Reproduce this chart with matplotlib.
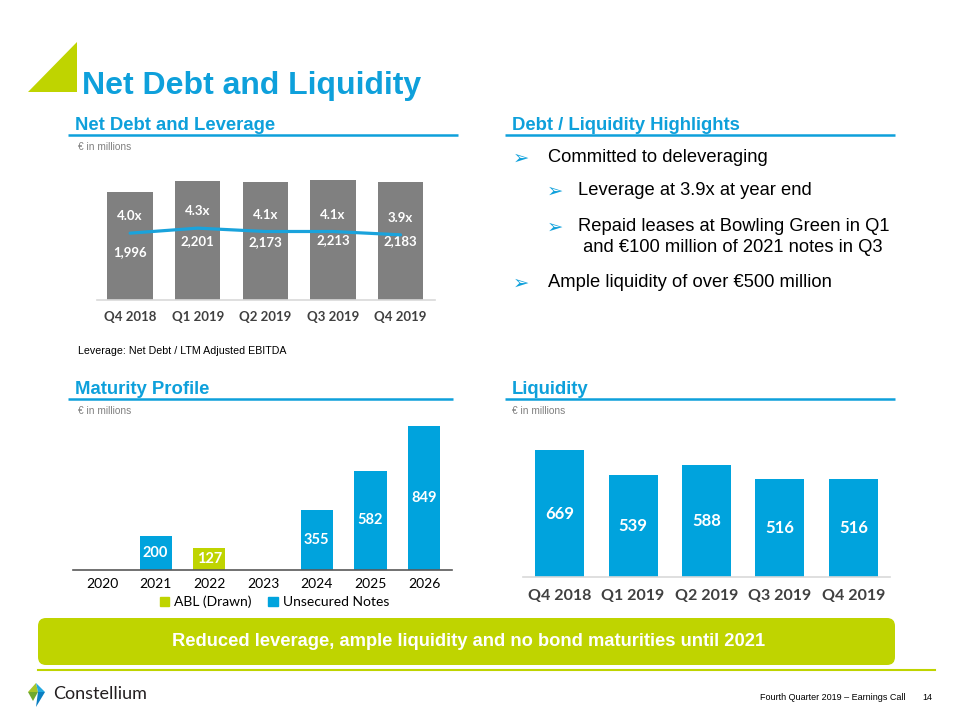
import matplotlib
matplotlib.use("Agg")
import matplotlib.pyplot as plt
from matplotlib.patches import Polygon, FancyBboxPatch, Patch
from matplotlib import font_manager

# ---------------- data ----------------
nd_quarters = ["Q4 2018", "Q1 2019", "Q2 2019", "Q3 2019", "Q4 2019"]
net_debt = [1996, 2201, 2173, 2213, 2183]
leverage = [4.0, 4.3, 4.1, 4.1, 3.9]

mat_years = ["2020", "2021", "2022", "2023", "2024", "2025", "2026"]
abl_drawn = [0, 0, 127, 0, 0, 0, 0]
unsecured_notes = [0, 200, 0, 0, 355, 582, 849]

liq_quarters = ["Q4 2018", "Q1 2019", "Q2 2019", "Q3 2019", "Q4 2019"]
liquidity = [669, 539, 588, 516, 516]

bullets = [
    (0, "Committed to deleveraging"),
    (1, "Leverage at 3.9x at year end"),
    (1, "Repaid leases at Bowling Green in Q1\n and \u20ac100 million of 2021 notes in Q3"),
    (0, "Ample liquidity of over \u20ac500 million"),
]

# ---------------- style ----------------
BLUE = "#0EA0DB"
BAR_BLUE = "#00A3DD"
GREEN = "#BFD400"
GRAY_BAR = "#808080"
W, H = 960, 720

def has_font(name):
    try:
        font_manager.findfont(name, fallback_to_default=False)
        return True
    except Exception:
        return False

ARIAL = "Liberation Sans"
NARROW = "Liberation Sans Narrow" if has_font("Liberation Sans Narrow") else "Liberation Sans"
CAL = "Lato"

fig = plt.figure(figsize=(W / 100, H / 100), dpi=100)
fig.patch.set_facecolor("white")

bg = fig.add_axes([0, 0, 1, 1], zorder=0)
bg.set_xlim(0, W)
bg.set_ylim(H, 0)
bg.axis("off")

def px_axes(x0, y0, x1, y1, z=2):
    return fig.add_axes([x0 / W, 1 - y1 / H, (x1 - x0) / W, (y1 - y0) / H], zorder=z)

# ---------------- decorations ----------------
bg.add_patch(Polygon([(28, 92), (77, 42), (77, 92)], closed=True, color=GREEN, lw=0))
bg.text(82, 86, "Net Debt and Liquidity", fontsize=23, fontweight="bold", color=BLUE,
        family=ARIAL, va="center", ha="left")

def section(x, y, xl0, xl1, yl, label):
    bg.text(x, y, label, fontsize=13.3, fontweight="bold", color=BLUE, family=ARIAL,
            va="center", ha="left")
    bg.plot([xl0, xl1], [yl, yl], color=BLUE, lw=1.8, solid_capstyle="butt")

section(75, 126, 68, 458, 135, "Net Debt and Leverage")
section(512, 126, 505, 895, 135, "Debt / Liquidity Highlights")
section(75, 389, 68, 453, 399, "Maturity Profile")
section(512, 389, 505, 895, 399, "Liquidity")

for x, y in [(78, 147), (78, 411), (512, 411)]:
    bg.text(x, y, "\u20ac in millions", fontsize=7.3, color="#808080", family=ARIAL,
            va="center", ha="left")

bg.text(78, 351, "Leverage: Net Debt / LTM Adjusted EBITDA", fontsize=7.7, color="black",
        family=ARIAL, va="center", ha="left")

# bullets
ys = [158, 191, 227, 283]
for (lvl, txt), y in zip(bullets, ys):
    bx = 513 if lvl == 0 else 547
    tx = 548 if lvl == 0 else 578
    bg.text(bx, y, "\u27a2", fontsize=14, color=BLUE, family="DejaVu Sans",
            va="center", ha="left")
    bg.text(tx, y - 9, txt, fontsize=13.2, color="black", family=ARIAL,
            va="top", ha="left", linespacing=1.3)

# banner
bg.add_patch(FancyBboxPatch((44, 624), 845, 35, boxstyle="round,pad=6,rounding_size=8",
                            fc=GREEN, ec="none"))
bg.text(469, 641, "Reduced leverage, ample liquidity and no bond maturities until 2021",
        fontsize=13.2, fontweight="bold", color="white", family=NARROW,
        va="center", ha="center")
bg.plot([38, 935], [670, 670], color=GREEN, lw=1.5)

# logo
bg.add_patch(Polygon([(28, 692), (36, 683), (38, 692)], closed=True, color="#A8C62A", lw=0))
bg.add_patch(Polygon([(36, 683), (45, 692), (38, 692)], closed=True, color="#23A9E1", lw=0))
bg.add_patch(Polygon([(28, 692), (38, 692), (33, 701)], closed=True, color="#6FA92F", lw=0))
bg.add_patch(Polygon([(38, 692), (45, 692), (36, 707)], closed=True, color="#0A7FC2", lw=0))
bg.text(53, 694, "Constellium", fontsize=13, color="#231F20", family=CAL,
        va="center", ha="left")
bg.text(905, 698, "Fourth Quarter 2019 \u2013 Earnings Call", fontsize=6.5, color="black",
        family=NARROW, va="center", ha="right")
bg.text(922, 698, "14", fontsize=6.5, color="black", family=NARROW, va="center", ha="left")

def clean(ax, spine_color):
    for s in ["top", "right", "left"]:
        ax.spines[s].set_visible(False)
    ax.spines["bottom"].set_color(spine_color)
    ax.spines["bottom"].set_linewidth(1.2)
    ax.set_yticks([])
    ax.tick_params(axis="x", length=0)
    ax.patch.set_alpha(0)

# ---------------- net debt chart ----------------
ax1 = px_axes(97, 170, 435, 300)
x = list(range(len(nd_quarters)))
ax1.bar(x, net_debt, width=0.67, color=GRAY_BAR, zorder=2)
ax1.set_xlim(-0.49, 4.51)
ax1.set_ylim(0, 2402)
clean(ax1, "#D9D9D9")
ax1.set_xticks(x)
ax1.set_xticklabels(nd_quarters, fontsize=9.5, fontweight="bold", color="#404040", family=CAL)
ax1.tick_params(axis="x", pad=8)
for i, v in enumerate(net_debt):
    ax1.annotate(f"{v:,}", (i, v), xytext=(0, -43), textcoords="offset points",
                 ha="center", va="center", fontsize=9.5, fontweight="bold",
                 color="white", family=CAL, zorder=5)
ax2 = ax1.twinx()
ax2.set_ylim(0, 7.78)
ax2.axis("off")
ax2.plot(x, leverage, color="#1AA3DC", lw=2.3, solid_capstyle="round", zorder=4)
for i, v in enumerate(leverage):
    ax2.annotate(f"{v:.1f}x", (i, v), xytext=(0, 12), textcoords="offset points",
                 ha="center", va="center", fontsize=9.5, fontweight="bold",
                 color="white", family=CAL, zorder=5)

# ---------------- maturity chart ----------------
ax3 = px_axes(73, 415, 452, 570)
xm = list(range(len(mat_years)))
ax3.bar(xm, abl_drawn, width=0.6, color=GREEN, zorder=2, label="ABL (Drawn)")
ax3.bar(xm, unsecured_notes, width=0.6, color=BAR_BLUE, zorder=2, label="Unsecured Notes")
ax3.set_xlim(-0.54, 6.52)
ax3.set_ylim(0, 911)
clean(ax3, "#595959")
ax3.set_xticks(xm)
ax3.set_xticklabels(mat_years, fontsize=10, color="black", family=CAL)
ax3.tick_params(axis="x", pad=6)
for i in xm:
    for vals in (abl_drawn, unsecured_notes):
        v = vals[i]
        if v > 0:
            ax3.text(i, v / 2, f"{v}", ha="center", va="center", fontsize=10.5,
                     fontweight="bold", color="white", family=CAL, zorder=5)
handles = [Patch(color=GREEN, label="ABL (Drawn)"), Patch(color=BAR_BLUE, label="Unsecured Notes")]
ax3.legend(handles=handles, loc="center", bbox_to_anchor=(274.5 / W, 1 - 602 / H),
           bbox_transform=fig.transFigure, ncol=2, frameon=False,
           handlelength=0.7, handleheight=0.7, handletextpad=0.35, columnspacing=1.2,
           prop={"family": CAL, "size": 10})

# ---------------- liquidity chart ----------------
ax4 = px_axes(523, 430, 890, 577)
xl = list(range(len(liq_quarters)))
ax4.bar(xl, liquidity, width=0.67, color=BAR_BLUE, zorder=2)
ax4.set_xlim(-0.5, 4.5)
ax4.set_ylim(0, 775)
clean(ax4, "#D9D9D9")
ax4.set_xticks(xl)
ax4.set_xticklabels(liq_quarters, fontsize=11.5, fontweight="bold", color="#404040", family=CAL)
ax4.tick_params(axis="x", pad=9)
for i, v in enumerate(liquidity):
    ax4.text(i, v / 2, f"{v}", ha="center", va="center", fontsize=12,
             fontweight="bold", color="white", family=CAL, zorder=5)

fig.savefig("out.png", dpi=100, facecolor="white")
